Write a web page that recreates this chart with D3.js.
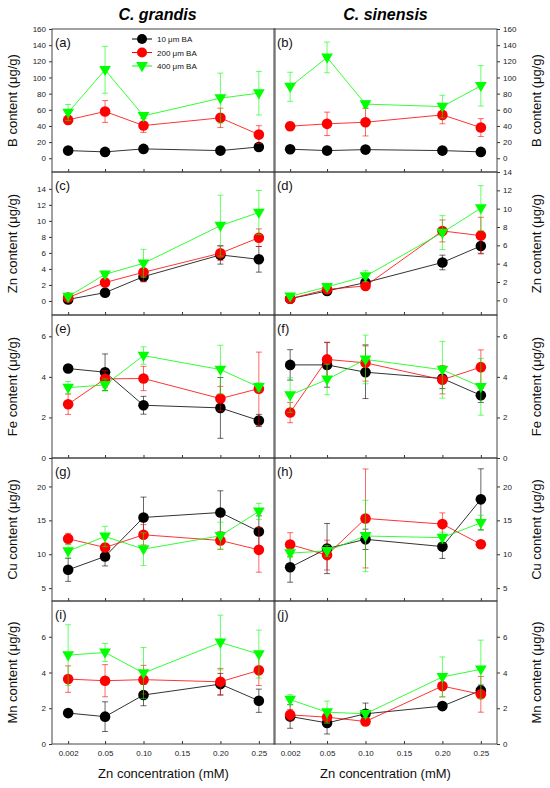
<!DOCTYPE html>
<html>
<head>
<meta charset="utf-8">
<script src="https://cdn.jsdelivr.net/npm/d3@7"></script>
<style>
  body { margin: 0; background: #fff; }
  svg { font-family: Arial, "Liberation Sans", sans-serif; }
  .tick text { font-size: 8px; fill: #222; }
  .tick line { stroke: #333; }
  .domain { display: none; }
</style>
</head>
<body>
<div id="chart"></div>
<script>
// Zn treatments and BA series
var zn = [0.002, 0.05, 0.10, 0.20, 0.25];
var xTicks = [0.002, 0.05, 0.10, 0.15, 0.20, 0.25];
var xTickLabels = ["0.002", "0.05", "0.10", "0.15", "0.20", "0.25"];
var seriesNames = ["10 \u03bcm BA", "200 \u03bcm BA", "400 \u03bcm BA"];
var seriesColors = ["#000000", "#ff0000", "#00ff00"];
var elements = ["B", "Zn", "Fe", "Cu", "Mn"];
var species = ["C. grandis", "C. sinensis"];
var panelLetters = ["a", "b", "c", "d", "e", "f", "g", "h", "i", "j"];

// means (10, 200, 400 uM BA) and error bars
var aMean = [[9.5, 7.9, 11.6, 9.5, 14], [47.5, 57.9, 40.5, 50, 29.3], [56.6, 109.5, 52.5, 74.4, 80.6]];
var aErr  = [[2, 2, 2, 2, 3], [5, 13.5, 8.5, 12, 11], [10, 29, 3, 31, 27]];
var bMean = [[11.2, 9.5, 10.7, 9.5, 7.9], [39.7, 42.6, 44.6, 53.7, 38], [88.5, 124.8, 67, 64, 89.7]];
var bErr  = [[2, 2, 2, 2, 2], [5, 14.5, 17, 11, 11], [18, 19, 4, 14, 25]];
var cMean = [[0.2, 1.04, 3.04, 5.75, 5.2], [0.42, 2.3, 3.58, 5.96, 7.9], [0.54, 3.33, 4.7, 9.4, 11.04]];
var cErr  = [[0.1, 0.2, 0.6, 1.15, 1.6], [0.1, 0.4, 1.2, 0.9, 1.1], [0.15, 0.3, 1.75, 3.8, 2.75]];
var dMean = [[0.18, 1.02, 1.94, 4.13, 5.93], [0.18, 1.2, 1.57, 7.57, 7.06], [0.44, 1.46, 2.63, 7.39, 10.06]];
var dErr  = [[0.1, 0.2, 0.3, 0.8, 0.8], [0.1, 0.2, 0.3, 1.2, 2.0], [0.1, 0.2, 0.6, 1.85, 2.45]];
var eMean = [[4.41, 4.23, 2.6, 2.47, 1.85], [2.65, 3.9, 3.92, 2.93, 3.42], [3.47, 3.6, 5.05, 4.36, 3.5]];
var eErr  = [[0.2, 0.9, 0.44, 1.5, 0.3], [0.5, 0.4, 0.6, 0.6, 1.8], [0.3, 0.3, 0.43, 1.2, 0.2]];
var fMean = [[4.59, 4.59, 4.23, 3.92, 3.09], [2.24, 4.86, 4.69, 3.86, 4.48], [3.1, 3.87, 4.86, 4.35, 3.51]];
var fErr  = [[0.75, 1.1, 1.3, 0.5, 0.35], [0.5, 0.85, 0.9, 0.7, 0.85], [0.85, 0.75, 1.2, 1.4, 1.4]];
var gMean = [[7.7, 9.67, 15.43, 16.16, 13.36], [12.28, 11.0, 12.87, 12.03, 10.65], [10.46, 12.62, 10.75, 12.72, 16.31]];
var gErr  = [[1.7, 1.4, 3.0, 3.2, 2.3], [0.8, 0.6, 1.5, 1.3, 3.3], [1.0, 1.5, 2.4, 2.0, 1.2]];
var hMean = [[8.07, 10.84, 12.2, 11.13, 18.1], [11.43, 9.87, 15.28, 14.45, 11.47], [10.16, 10.5, 12.69, 12.45, 14.64]];
var hErr  = [[2.2, 3.7, 1.5, 1.75, 4.5], [1.75, 2.2, 7.3, 1.65, 0.3], [0.6, 0.8, 5.26, 0.8, 1.1]];
var iMean = [[1.73, 1.53, 2.74, 3.35, 2.42], [3.63, 3.54, 3.6, 3.48, 4.12], [4.97, 5.12, 3.97, 5.68, 5.03]];
var iErr  = [[0.2, 0.83, 0.6, 0.6, 0.65], [0.74, 0.9, 0.8, 0.75, 0.85], [1.7, 0.5, 1.43, 1.53, 1.34]];
var jMean = [[1.54, 1.18, 1.69, 2.12, 3.0], [1.63, 1.5, 1.26, 3.24, 2.78], [2.48, 1.78, 1.69, 3.75, 4.18]];
var jErr  = [[0.66, 0.62, 0.6, 0.2, 0.3], [0.3, 0.3, 0.15, 0.6, 1.0], [0.28, 0.62, 0.2, 1.12, 1.63]];

var yDomains = [[-17, 160], [-17, 160], [-1.75, 16.1], [-1.6, 14], [0, 7.05], [0, 7.05], [3.1, 24.2], [3.1, 24.2], [0, 8], [0, 8]];
var yTickSets = [d3.range(0, 161, 20), d3.range(0, 161, 20), d3.range(0, 15, 2), d3.range(0, 15, 2),
  [0, 2, 4, 6], [0, 2, 4, 6], [5, 10, 15, 20], [5, 10, 15, 20], [0, 2, 4, 6], [0, 2, 4, 6]];

var means = [aMean, bMean, cMean, dMean, eMean, fMean, gMean, hMean, iMean, jMean];
var errs = [aErr, bErr, cErr, dErr, eErr, fErr, gErr, hErr, iErr, jErr];

var width = 550, height = 788;
var top0 = 29, panelH = 143;
var colLeft = [52, 274], panelW = 223;

var svg = d3.select("#chart").append("svg").attr("width", width).attr("height", height);

// column titles
species.forEach(function (s, c) {
  svg.append("text")
    .attr("x", colLeft[c] + panelW / 2 - (c === 0 ? 6 : 0)).attr("y", 20)
    .attr("text-anchor", "middle")
    .style("font-size", "16px").style("font-weight", "bold").style("font-style", "italic")
    .text(s);
});

var triangle = d3.symbol().type(d3.symbolTriangle).size(60);

for (var p = 0; p < 10; p++) {
  var row = Math.floor(p / 2), col = p % 2;
  var x0 = colLeft[col], y0 = top0 + row * panelH;

  var x = d3.scaleLinear().domain([-0.019, 0.271]).range([x0, x0 + panelW]);
  var y = d3.scaleLinear().domain(yDomains[p]).range([y0 + panelH, y0]);

  var g = svg.append("g");

  // x ticks (inward) at bottom of each panel
  var xAxis = d3.axisTop(x).tickValues(xTicks).tickSize(3).tickFormat("");
  g.append("g").attr("transform", "translate(0," + (y0 + panelH) + ")").call(xAxis);

  if (row === 4) {
    var xLab = d3.axisBottom(x).tickValues(xTicks).tickSize(0).tickPadding(6)
      .tickFormat(function (d, i) { return xTickLabels[i]; });
    g.append("g").attr("transform", "translate(0," + (y0 + panelH) + ")").call(xLab);
    g.append("text")
      .attr("x", x0 + panelW / 2).attr("y", 778)
      .attr("text-anchor", "middle").style("font-size", "13px").style("fill", "#111")
      .text("Zn concentration (mM)");
  }

  // y axis
  var yAxis = (col === 0 ? d3.axisLeft(y) : d3.axisRight(y))
    .tickValues(yTickSets[p]).tickFormat(d3.format("d")).tickSize(3).tickPadding(3);
  g.append("g").attr("transform", "translate(" + (col === 0 ? x0 : x0 + panelW) + ",0)").call(yAxis);

  g.append("text")
    .attr("transform", "translate(" + (col === 0 ? 17 : 541) + "," + (y0 + panelH / 2) + ")rotate(-90)")
    .attr("text-anchor", "middle").style("font-size", "13px").style("fill", "#111")
    .text(elements[row] + " content (\u03bcg/g)");

  // frame
  g.append("rect").attr("x", x0).attr("y", y0).attr("width", panelW).attr("height", panelH)
    .attr("fill", "none").attr("stroke", "#444").attr("stroke-width", 1);

  g.append("text")
    .attr("x", x0 + 3).attr("y", y0 + 18)
    .style("font-size", "13px").style("fill", "#111")
    .text("(" + panelLetters[p] + ")");

  // series
  for (var s = 0; s < 3; s++) {
    var color = seriesColors[s];
    var pts = zn.map(function (v, i) { return { x: v, m: means[p][s][i], e: errs[p][s][i] }; });
    var sg = g.append("g");

    sg.selectAll(".err").data(pts).enter().append("path")
      .attr("d", function (d) {
        var cx = x(d.x), t = y(d.m + d.e), b = y(d.m - d.e);
        return "M" + cx + "," + t + "V" + b + "M" + (cx - 3) + "," + t + "H" + (cx + 3) +
          "M" + (cx - 3) + "," + b + "H" + (cx + 3);
      })
      .attr("stroke", color).attr("stroke-width", 0.8).attr("fill", "none").attr("opacity", 0.75);

    sg.append("path").datum(pts)
      .attr("d", d3.line().x(function (d) { return x(d.x); }).y(function (d) { return y(d.m); }))
      .attr("stroke", color).attr("stroke-width", 1).attr("fill", "none").attr("opacity", 0.8);

    if (s < 2) {
      sg.selectAll(".pt").data(pts).enter().append("circle")
        .attr("cx", function (d) { return x(d.x); })
        .attr("cy", function (d) { return y(d.m); })
        .attr("r", 5.3).attr("fill", color);
    } else {
      sg.selectAll(".pt").data(pts).enter().append("path")
        .attr("d", triangle)
        .attr("transform", function (d) { return "translate(" + x(d.x) + "," + (y(d.m) - 0.5) + ")rotate(180)"; })
        .attr("fill", color);
    }
  }

  // legend in panel (a)
  if (p === 0) {
    var lg = g.append("g");
    seriesNames.forEach(function (name, s) {
      var ly = 39 + s * 13.5;
      lg.append("line").attr("x1", 132).attr("x2", 152).attr("y1", ly).attr("y2", ly)
        .attr("stroke", seriesColors[s]).attr("stroke-width", 1);
      if (s < 2) {
        lg.append("circle").attr("cx", 142).attr("cy", ly).attr("r", 5).attr("fill", seriesColors[s]);
      } else {
        lg.append("path").attr("d", triangle)
          .attr("transform", "translate(142," + (ly - 0.5) + ")rotate(180)").attr("fill", seriesColors[s]);
      }
      lg.append("text").attr("x", 157).attr("y", ly + 3)
        .style("font-size", "8px").style("fill", "#111").text(name);
    });
  }
}
</script>
</body>
</html>
